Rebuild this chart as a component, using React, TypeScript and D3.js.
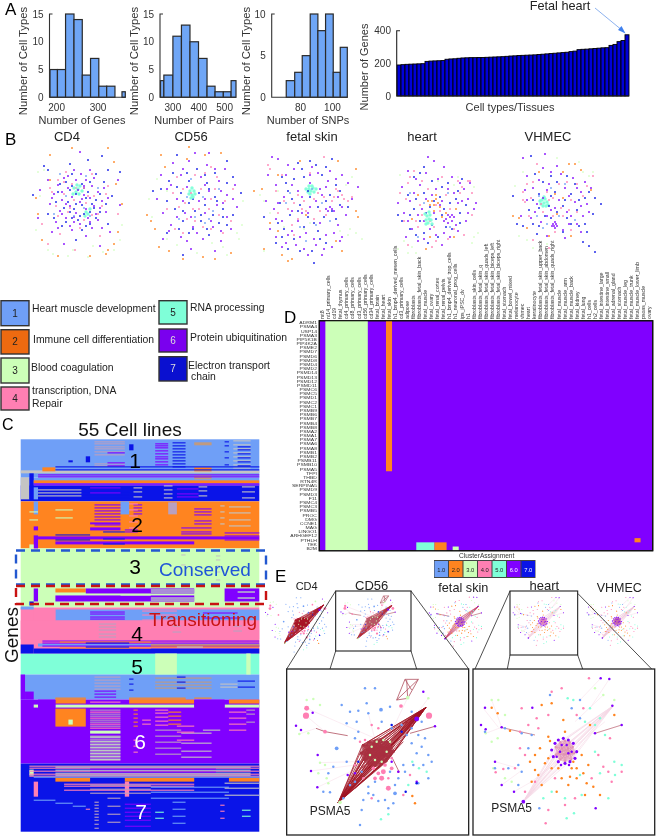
import React from "react";
import * as d3 from "d3";

type P = number[];
const palette: Record<number, string> = { 1: "#6f9ff7", 2: "#ff8420", 3: "#ccffb8", 4: "#ff7fb3", 5: "#7fffd8", 6: "#8000ff", 7: "#0a14e8", 8: "#c4c4c4", 9: "#b9a0c0", 10: "#c09a80" };

// ---------- Panel A
const genesEdges = [184, 202, 221.6, 242, 262, 282, 302, 321, 341, 358, 366];
const genesCounts = [5, 5, 15, 14, 4, 7, 2, 2, 0, 1];
const pairsEdges = [252, 265, 300, 333, 366, 399, 432, 463, 495, 525, 544];
const pairsCounts = [3, 4, 11, 13, 10, 7, 2, 1, 1, 3];
const snpEdges = [62, 71.1, 76.4, 81.1, 86.1, 90.9, 95.7, 100.5, 104.9, 109.3];
const snpCounts = [0, 2, 3, 5, 10, 8, 10, 3, 6];
const genesPerCell = [190, 192, 194, 195, 196, 197, 198, 212, 214, 215, 216, 217, 225, 227, 228, 231, 233, 234, 235, 235, 236, 236, 237, 238, 239, 240, 241, 243, 245, 246, 248, 249, 250, 251, 252, 254, 256, 258, 260, 262, 264, 266, 268, 272, 275, 284, 286, 287, 289, 291, 293, 295, 296, 310, 316, 333, 340, 375];

// ---------- Panel B clouds: offsets from each cloud's centre, by cluster
const cd4Cloud: [number, P[]][] = [
  [6, [[-4,-30],[3,-26],[-14,-22],[8,-20],[-20,-15],[14,-14],[-10,-12],[0,-10],[20,-8],[-24,-6],[6,-5],[-6,-3],[12,-2],[-16,0],[24,1],[2,2],[-28,4],[-8,6],[16,6],[8,9],[-18,11],[-2,13],[28,12],[-12,18],[10,18],[20,20],[-22,22],[2,24],[14,28],[-6,30],[-26,32],[8,36],[40,-20],[-38,-10],[42,5],[-40,18],[32,32],[-14,44],[22,46],[2,-48],[-2,-20],[12,-30],[-30,-20],[30,-2],[-4,22]]],
  [7, [[-8,-36],[10,-40],[-30,-30],[18,-26],[-12,-18],[4,-16],[26,-18],[-20,-8],[10,-8],[-2,-6],[18,0],[-10,2],[4,5],[12,12],[-4,9],[-14,8],[6,14],[22,12],[-6,18],[0,20],[30,24],[-16,26],[12,24],[-30,14],[34,-4],[-34,-34],[42,-28],[-45,-5],[24,-44],[30,-30],[4,30],[-2,40],[8,-2],[-8,-10],[14,4]]],
  [4, [[-20,-20],[-6,-16],[6,-12],[-14,-6],[16,-4],[-4,0],[8,3],[-22,6],[24,6],[-10,12],[14,15],[-28,-12],[30,-14],[2,28],[-18,34],[-36,24],[22,36],[40,14],[-3,50],[-30,44]]],
  [2, [[30,-52],[-28,-45],[36,-38],[-28,-20],[-42,-2],[38,-16],[-40,14],[-36,40],[40,32],[30,50],[-20,56],[12,56],[28,54],[36,44],[-6,-52],[44,4]]],
  [1, [[-12,-4],[6,8],[12,16],[-18,-26],[20,-12],[-4,16],[8,-24],[-24,14]]],
  [3, [[-40,-28],[-38,-4],[-30,50],[-10,56],[10,57],[25,52],[36,50],[42,40],[44,25],[-42,30],[-34,-30],[-5,50],[15,46],[-25,54]]],
  [5, [[-4,-12],[-2,-8],[0,-11],[2,-14],[-5,-6],[1,-6],[4,-9],[-1,-15],[8,12],[10,14],[12,9],[7,16]]],
  [6, [[-10,-24],[6,-14],[16,-22],[-16,-8],[4,-1],[-12,4],[22,8],[-4,17],[12,22],[-16,14],[26,-12],[-26,-2],[18,14],[-8,26],[-20,28],[24,28]]],
  [7, [[-6,-26],[-18,-16],[12,-18],[22,-6],[-6,-14],[-22,2],[6,-12],[16,8],[-8,12],[2,16],[-12,22],[18,18],[8,26],[-24,18],[28,4],[-2,4]]],
  [4, [[-12,-28],[14,-26],[-26,-8],[-8,8],[-2,-12],[20,14],[6,20],[-14,-18],[28,-6],[10,-4],[-20,16]]],
];
const cd56Cloud: [number, P[]][] = [
  [6, [[-24,-40],[-8,-42],[10,-38],[28,-34],[-36,-28],[-16,-28],[4,-26],[22,-22],[38,-18],[-30,-14],[-10,-16],[12,-12],[30,-8],[-40,-4],[-20,-4],[2,-2],[20,2],[40,4],[-34,10],[-12,10],[8,10],[30,14],[-26,22],[-4,24],[16,24],[34,26],[-16,34],[6,36],[24,38],[-34,36],[-2,-50],[12,-50],[-6,46],[18,48]]],
  [7, [[-20,-48],[0,-34],[18,-30],[-28,-22],[-8,-22],[10,-20],[30,-20],[-16,-10],[2,-10],[18,-6],[-30,-2],[-8,0],[8,2],[26,6],[-22,6],[-2,8],[16,12],[36,12],[-14,18],[4,18],[22,20],[-8,30],[12,32],[-44,-12],[44,-10],[-30,30],[30,-42],[-14,52]]],
  [4, [[-14,-14],[-6,-10],[4,-14],[14,-4],[-18,4],[-4,6],[12,6],[22,12],[28,-2],[-24,-10],[-10,16],[6,24],[-22,26],[26,30],[36,-14],[-2,-28],[14,-36]]],
  [2, [[-8,-56],[8,-48],[-36,-48],[-32,-36],[24,-50],[-46,18],[-42,26],[-38,44],[-28,48],[6,54],[18,56],[34,50],[-14,56],[-50,12],[-10,-44]]],
  [1, [[-10,-6],[12,16],[16,8],[8,20],[-2,14],[-6,-24],[22,-14],[-18,16],[6,-6]]],
  [3, [[-30,-12],[-48,-4],[-45,14],[-30,36],[-20,42],[0,50],[26,44],[40,30],[45,22],[42,36],[46,-2],[-40,-24],[15,40],[30,52]]],
  [5, [[-7,-12],[-5,-8],[-3,-12],[-5,-15],[-8,-9],[-2,-9],[-6,-5],[-4,-6]]],
  [6, [[-14,-34],[18,-34],[-26,-18],[8,-18],[24,-12],[-14,-2],[8,-4],[26,0],[-6,14],[14,18],[-20,14],[0,30],[24,28],[-28,28],[-10,38],[36,-4]]],
  [7, [[-10,-30],[8,-28],[-20,-16],[-4,-4],[12,-14],[20,-2],[-14,8],[4,12],[10,26],[-4,26],[26,14],[-24,-30],[-36,-14],[36,-26],[-18,26],[30,22]]],
  [4, [[-20,-26],[8,-30],[-12,0],[2,6],[18,-14],[-2,18],[14,26],[-30,6],[34,18],[-14,30],[20,-26]]],
];
const fetalCloud: [number, P[]][] = [
  [6, [[-40,-48],[-34,-46],[-44,-30],[-18,-36],[0,-38],[18,-34],[30,-30],[-36,-20],[-20,-20],[-2,-22],[14,-18],[36,-22],[46,-18],[-28,-8],[-10,-8],[10,-10],[26,-8],[40,-6],[-46,-4],[-38,4],[-20,6],[-2,2],[14,4],[18,2],[20,4],[16,6],[22,6],[34,10],[-30,16],[-14,16],[8,18],[26,20],[-42,24],[-24,30],[-6,28],[14,30],[30,32],[-16,40],[4,40],[20,42],[-30,42],[-4,50],[10,50],[-26,-30],[4,-4],[-12,32],[22,28],[-36,32]]],
  [7, [[-14,-42],[4,-40],[20,-46],[-30,-28],[-8,-28],[10,-30],[24,-20],[-24,-14],[-4,-14],[18,-10],[-32,-2],[-12,0],[6,2],[28,0],[-22,10],[-4,12],[12,12],[-28,24],[-8,22],[6,26],[24,14],[-36,38],[-12,46],[2,58],[-48,12],[36,2],[-20,-6],[-2,-44],[14,38]]],
  [4, [[-18,-2],[-8,-4],[2,-6],[12,-8],[-24,4],[-6,6],[8,6],[22,-8],[30,-10],[36,-4],[-30,-30],[-14,14],[2,14],[-36,-14],[-44,-40],[-42,-36],[12,-48],[32,-6],[26,-14],[-20,20]]],
  [2, [[-50,-16],[-34,-30],[-12,-44],[26,-44],[44,-36],[-6,10],[-42,18],[-34,26],[-48,44],[-30,50],[-24,56],[-20,54],[24,36],[46,12],[44,6],[-58,-14],[30,46]]],
  [1, [[-22,-12],[-12,22],[0,-16],[10,-2],[-6,36],[18,16],[-26,-2],[4,20]]],
  [3, [[-34,-14],[-52,-10],[-48,-4],[-42,8],[-28,22],[28,26],[38,24],[36,30],[44,28],[50,34],[-8,24],[-48,46],[-2,18],[34,-20],[40,-28]]],
  [5, [[-3,-16],[-1,-14],[1,-17],[-4,-13],[0,-19],[2,-13],[-6,-16],[-2,-11],[4,-16],[-3,-19]]],
  [6, [[-24,-40],[6,-32],[24,-26],[-14,-14],[16,-24],[-34,-2],[-4,8],[30,2],[-20,26],[2,34],[-36,14],[-26,38],[12,44],[-10,8],[8,-16],[28,36],[-2,-30],[-8,44]]],
  [7, [[-18,-26],[14,-38],[-26,-22],[-2,-8],[14,-4],[-14,6],[2,18],[-34,18],[-18,34],[8,34],[20,6],[-10,-36],[28,-14],[-24,44],[0,46],[-30,32]]],
  [4, [[-14,-10],[6,-12],[20,-4],[-28,-4],[-10,4],[14,10],[-2,-32],[24,-16],[-18,30],[40,-8],[-34,8]]],
];
const heartCloud: [number, P[]][] = [
  [6, [[-30,-36],[-12,-34],[6,-40],[14,-30],[-36,-20],[-18,-22],[-2,-18],[16,-14],[26,-18],[-28,-6],[-12,-8],[4,-6],[20,-4],[30,-8],[-34,6],[-20,8],[-4,6],[10,8],[12,10],[8,12],[14,14],[10,16],[16,10],[28,14],[-26,22],[-8,22],[6,26],[20,24],[-14,32],[4,38],[-32,30],[32,-24],[36,2],[38,-4],[-40,-4],[-4,-46],[-10,-50]]],
  [7, [[-24,-30],[-6,-26],[10,-24],[-30,-12],[-14,-14],[2,-10],[18,-8],[-24,2],[-8,0],[6,2],[22,6],[-18,14],[-2,12],[14,22],[-22,28],[0,30],[-36,14],[-40,8],[-14,-40],[24,-28],[-10,36]]],
  [4, [[-38,-14],[-30,-24],[-24,-36],[-16,-26],[4,-30],[20,-26],[24,-20],[30,-26],[-34,14],[-20,20],[-30,38],[-6,40],[10,32],[26,28],[-16,8],[-2,-2],[12,2],[34,-14],[32,-26],[-4,20],[34,8]]],
  [2, [[-6,-6],[-4,-2],[-2,-8],[-8,-2],[0,-4],[2,0],[-10,-6],[-4,4],[-2,-12],[4,10],[8,6],[-20,-12],[-26,12],[18,2],[-8,30],[16,30],[-12,42]]],
  [1, [[-14,-4],[10,-14],[-20,30],[12,20],[-28,-14]]],
  [3, [[-34,34],[-26,40],[-22,46],[-30,46],[0,-26],[16,-22],[20,-30],[36,-20],[36,30],[40,26],[-38,-32],[-40,42],[34,36]]],
  [5, [[-11,9],[-9,12],[-12,13],[-8,8],[-10,16],[-7,13],[-13,7],[-9,5],[-12,17],[-6,17]]],
  [6, [[-22,-28],[0,-28],[22,-24],[-24,-14],[-6,-12],[10,-18],[24,-6],[-16,2],[2,-2],[6,14],[14,8],[18,18],[-14,14],[-2,28],[-20,34],[12,30],[30,6],[-30,14]]],
  [7, [[-18,-34],[4,-20],[-22,-8],[-4,-6],[12,-4],[-28,8],[-12,6],[4,8],[-6,18],[22,16],[8,20],[-28,22],[-14,26],[20,-16],[28,-2]]],
  [4, [[-28,-30],[-10,-18],[8,-12],[-18,-2],[2,4],[-22,14],[-8,14],[16,22],[-2,34],[22,-14],[-32,-8]]],
];
const vhmecCloud: [number, P[]][] = [
  [6, [[-30,-26],[-14,-34],[0,-36],[16,-24],[28,-20],[-24,-14],[-8,-18],[8,-14],[24,-10],[-30,-2],[-14,-4],[2,-2],[18,0],[30,2],[-22,10],[-6,8],[10,10],[26,14],[-16,20],[-2,20],[-4,22],[-3,24],[-1,22],[-5,24],[-2,26],[0,24],[12,22],[24,30],[-34,-44],[-12,-48],[-36,14],[8,36],[-10,34],[34,-14]]],
  [7, [[-22,-28],[-6,-26],[10,-26],[-18,-8],[-2,-10],[14,-8],[28,-4],[-28,8],[-8,4],[6,4],[20,8],[-24,22],[-12,14],[10,16],[22,24],[-34,24],[-20,32],[30,30],[26,40],[32,44],[38,50],[-40,22],[38,-4],[44,2],[-44,-6],[-26,-46]]],
  [4, [[-34,-10],[-10,-10],[2,-18],[14,-2],[-8,-2],[4,6],[-16,2],[12,8],[-26,-4],[-4,14],[-20,-38],[20,-18],[-30,-18],[36,-26],[-24,38],[-8,46],[-32,0],[-34,-2]]],
  [2, [[-18,-30],[6,-30],[12,-38],[24,-32],[34,-12],[-38,16],[-30,26],[-8,34],[14,34],[-2,-8],[6,-4],[0,12],[-44,14],[18,-38]]],
  [1, [[-18,-6],[-6,-14],[2,14],[-10,22],[-20,14],[18,18],[-14,26],[8,-18]]],
  [3, [[-34,-30],[22,-40],[26,-30],[32,-26],[-42,-16],[-38,34],[-30,38],[-24,46],[0,-44],[-10,42],[36,-30]]],
  [5, [[-15,-2],[-13,1],[-12,-3],[-16,2],[-10,0],[-14,4],[-11,4],[-17,-1],[-13,-5],[-9,3]]],
  [6, [[-18,-22],[4,-28],[20,-14],[-10,-12],[12,-6],[24,4],[-20,2],[-2,6],[14,14],[-10,14],[20,22],[-26,16],[6,28],[32,10],[-32,-12],[-6,-30]]],
  [7, [[-14,-20],[0,-20],[18,-18],[-24,-2],[-6,-6],[8,-2],[22,-2],[-18,6],[0,10],[14,22],[-6,16],[-18,24],[28,22],[32,-10],[36,12],[6,30]]],
  [4, [[-24,-20],[10,-20],[-4,-4],[6,14],[20,10],[-14,10],[26,-6],[-28,14],[14,28],[-2,30],[30,-16]]],
];
const cloudTitles = ["CD4", "CD56", "fetal skin", "heart", "VHMEC"];
const clouds = [cd4Cloud, cd56Cloud, fetalCloud, heartCloud, vhmecCloud];

// ---------- Legend
const clusterNames = ["Heart muscle development", "Immune cell differentiation", "Blood coagulation", "transcription, DNA|Repair", "RNA processing", "Protein ubiquitination", "Electron transport|chain"];

// ---------- Panel C: blocks [row0,row1,col0,col1,cluster] and stripes [rows,col0,col1,cluster]
const heatBlocks: P[] = [
  [0,38,0,55,1],[38,46,0,55,1],[46,62,0,55,7],[62,109,0,55,2],[109,168,0,55,3],[168,214,0,55,4],[214,235,0,55,5],[235,260,0,55,1],[260,324,0,55,6],[324,392,0,55,7],
  [31,34,0,55,8],[38,60,0,2,8],[34,60,2,3,7],[48,60,3,4,1],[41,44,3,55,2],
  [5,11,25,26,7],[17,23,15,16,7],[21,23,11,12,7],[28,32,5,8,2],[3,6,40,44,10],[28,32,40,44,2],[36,40,40,44,10],
  [62,75,3,4,1],[62,75,23,25,1],[63,75,34,36,9],[88,91,16,23,6],[83,85,16,23,6],
  [87,91,3,4,6],[96,109,3,4,6],[97,100,4,55,6],[102,105,8,40,6],[105,109,2,3,3],[94,96,4,25,2],
  [149,162,3,4,6],[149,153,8,15,2],[149,154,15,40,6],[156,162,8,40,6],[149,162,47,55,6],[162,166,2,3,7],
  [170,181,8,55,1],[170,181,3,8,4],[167,170,0,3,1],[181,200,0,55,4],[205,214,0,3,7],[209,214,3,55,7],[204,207,4,55,1],
  [214,235,31,36,3],[214,235,52,53,3],
  [235,260,0,1,6],[252,260,1,3,6],[260,264,8,15,2],[260,264,25,40,2],[260,264,48,55,2],[265,268,3,4,3],[265,268,8,40,3],[265,268,47,55,3],[260,268,4,8,6],[260,268,40,47,6],
  [269,287,8,15,2],[280,285,11,12,3],[291,294,16,23,3],
  [338,342,8,16,2],[338,342,24,40,2],[338,342,48,55,2],[342,357,3,4,4],[342,357,24,25,4],[330,336,2,3,3],
];
const heatStripes: [P, number, number, number][] = [
  [[2,4,7,9,12,15,24,26],17,24,9],[[4,6,8,11,14,17,19,22,25],31,34,6],[[3,6,9,12,15,18,21,24,27],35,38,7],[[1,5,9,13,17,21,25,28],49,53,8],[[7,10,14,18,22,26],50,53,7],[[2,6,12,18,25],47,48,7],
  [[13,23,26],20,24,6],[[27,30],8,55,7],[[35,37],4,55,6],[[44,45],3,55,6],
  [[47,49,52,55,58],4,25,7],[[50,53,56],4,14,8],[[48,52,57],26,28,8],[[46,50,54,58],33,35,8],[[47,51,56],41,43,8],[[47,52,58],51,54,8],[[48,53],16,23,6],[[49,54,57],36,41,6],
  [[65,68,71,74,77,80,85],17,23,6],[[65,68,71,74],26,28,6],[[69,72,75,81,84],40,44,6],[[70,78],8,12,3],[[72,80],2,4,3],[[67,73,80,86],48,53,8],[[64,70,76,82,88],25,27,4],[[66,72,78,84],46,47,8],
  [[90,92],24,27,6],[[88,92,94],37,44,6],[[93,96,100],47,55,6],[[95,100],8,16,7],[[92,99,104],19,24,7],
  [[116,120,126,132,140,145],45,46,8],[[115,125],37,38,8],[[150,152,158,160],30,40,3],[[155],23,30,3],[[152,158],50,54,3],
  [[172,174,177,179],16,24,6],[[171,175,180],28,36,4],[[173,178],42,50,6],[[184,187,190,194,197],18,22,9],[[186,192],35,37,9],[[186,191],49,51,9],
  [[201,203,206],5,55,6],[[202,208],9,30,2],[[205,207],30,55,2],[[203,207],15,25,7],[[207],36,42,8],
  [[237,240,243,246,249],17,23,9],[[238,242,245,248],31,44,10],[[239,244,250],25,26,7],[[241,247],50,54,7],[[237,242,248],36,38,7],[[251,254,257],17,22,6],[[244,247],46,50,8],
  [[258,259],8,15,2],[[258,259],25,38,2],[[258],40,44,2],
  [[262,272,278,284,288],16,23,4],[[270,274,276,280,282,286],16,23,9],[[296,299,302,305,308,311,314,317,320],16,23,9],[[297,301,304,307,310,313,316,319],16,23,3],
  [[270,274,278,282,286],26,27,2],[[300,306,312],26,27,4],[[270,273,277,281,285],31,34,4],[[272,276,280,284],34,37,2],[[290,296,302,308,314],31,37,9],[[293,303,311,317],37,44,8],[[286,292,300],36,40,4],[[272,278,284,290],48,52,4],[[270,274,282],52,54,9],[[290],42,46,8],[[280,284],28,30,4],
  [[326,328,331,334,336],2,55,4],[[327,330,333,335],8,53,8],[[329,332],16,45,6],[[337],3,55,1],[[344,346,350],10,40,4],[[345,349,353],16,30,9],[[347,352,358],30,48,1],[[343,348,355],47,55,8],
  [[360],3,8,1],[[363],8,12,1],[[366],12,15,1],[[369],15,16,4],[[362,365,368,371,374,377,380,384,388],17,18,9],[[364,368,372,376,380,386],24,30,6],[[372,378],31,33,5],[[362,369,376,383],35,38,1],[[365,371,378],46,47,4],[[358,366,374,382],20,23,9],[[370,376],51,53,5],
];
const heatNumbers: [string, number, number, string][] = [["1",135,468,"#000"],["2",137,532,"#000"],["3",135,574,"#000"],["4",137,641,"#000"],["5",137,674,"#000"],["6",140,749,"#fff"],["7",141,819,"#fff"]];

// ---------- Panel D
const geneLabels = ["ADRM1","PSMA4","USP14","PSMA3","PIP5K1B","PIP4K2A","PSME2","PSMD7","PSMD6","PSMD8","PSMD4","PSMD2","PSMD14","PSMD13","PSMD12","PSMD11","PSMC6","PSMC5","PSMD1","PSMC2","PSMC1","PSMB9","PSMB6","PSMB7","PSMB4","PSMB8","PSMA2","PSMA1","PSMA7","PSMA6","PSMA8","PSMB1","PSMB2","PSMB11","PSMB10","PSMA5","TFPI","THBD","RTN4R","SERPINA5","PSMD9","PSMD3","F11","PSMC4","PSMC3","PSMB5","PROC","DMG","CCNE1","MAG","LINGO1","ARHGEF12","PTHLH","TEK","B2M"];
const cellLabels = ["mt8","nt14_primary_cells","cd19","fetal_thymus","cd4_primary_cells","cd8_primary_cells","cd3_primary_cells","cd56_primary_cells","cd34_primary_cells","fetal_brain","fetal_heart","fetal_skin","h1_bmp4_derived_mesen_cells","cd3_primary_cells","adipose","fibroblasts","fibroblasts_fetal_skin_back","fetal_muscle","fetal_ovary","fetal_renal_cortex","fetal_renal_pelvis","h1_bmp4_derived_trop_cells","h1_neuronal_prog_cells","ips_iPSC_dv","h1","fibroblasts_skin_cells","fibroblasts_fetal_skin_q","fibroblasts_fetal_skin_quads_left","fibroblasts_fetal_skin_biceps_left","fibroblasts_fetal_skin_biceps_right","fetal_stomach","fetal_bowel_mixed","melanocyte","vhmec","heart","keratinocyte","fibroblasts_fetal_skin_upper_back","fibroblasts_fetal_skin_abdomen","fibroblasts_fetal_skin_quads_right","fetal_muscle","fetal_muscle_arm","fetal_muscle_back","fetal_kidney","fetal_lung","h1_cells","h2_cells","fetal_intestine_large","fetal_intestine_small","fetal_adrenal_gland","fetal_stomach","fetal_muscle_leg","fetal_muscle_trunk","fetal_muscle_lower_limb","psoas_muscle","ovary","pancreas"].slice(0, 55);
const dBlocks: P[] = [[0,55,1,8,3],[0,36,11,12,2],[53,55,16,19,5],[53,55,19,21,2],[54,55,22,23,3],[52,53,52,53,2]];
const legendSteps = [1, 2, 3, 4, 5, 6, 7];

// ---------- Panel E: networks
const netLeftBlue: P[] = [[200,420],[225,440],[250,437],[270,370],[300,370],[318,434,3],[280,445],[320,470],[350,490],[380,480],[410,440],[430,510],[450,520],[395,510],[440,545],[425,565],[460,570],[445,600],[415,600],[390,620],[370,640],[385,600],[360,685,3],[330,705],[310,708],[295,690],[280,685],[260,735],[255,780],[340,730],[355,715],[185,550,3],[240,520],[250,500],[175,605],[215,590],[160,625],[145,680],[165,682],[280,665],[300,650],[430,655],[460,640],[345,620],[360,660],[215,475],[245,470],[275,415],[345,425],[440,470],[410,490],[470,590],[410,535],[240,650],[260,620],[225,660],[205,700],[265,705]];
const netLeftPink: P[] = [[95,430,4],[93,452,5],[150,500,3],[462,452,5],[378,423,3],[340,670,4],[320,640,4],[330,600,3],[350,610,3],[295,610,3],[270,525],[255,530],[290,480],[310,490],[240,600],[265,640],[300,640,3],[340,640],[370,620],[350,580],[405,630],[290,700],[385,690],[325,620,4],[310,625,3]];
const netLeftGreen: P[] = [[95,405],[115,402],[135,420],[73,507],[100,505],[398,398,3],[460,400],[195,712,3],[130,625],[160,655],[150,600],[135,593],[155,640],[305,530,2],[325,525,2],[290,545,2],[335,560,2],[285,570,2],[320,590,2],[300,585,2],[345,530,2]];
const netLeftPurple: P[] = [[113,443],[63,482],[78,495],[445,380],[480,484],[128,570],[108,618],[127,667],[218,630],[240,625],[425,462,4],[425,650],[370,620],[350,590]];
const netLeftOther: [number, P][] = [[5,[412,590]],[5,[432,610]],[5,[340,748]],[5,[318,763]],[5,[400,660]],[5,[455,620]],[2,[412,693]],[2,[420,715]],[7,[380,500]],[7,[350,480]],[7,[425,655]],[7,[250,590]],[7,[392,680]]];
const netLeftCore: P[] = [[262,540],[280,530],[300,525],[320,520],[340,530],[350,545],[358,560],[345,575],[335,590],[320,600],[300,605],[280,600],[265,585],[255,565],[275,555],[295,550],[315,545],[335,550],[290,575],[310,575],[325,570],[305,535],[270,570],[345,558]];
const netLeftHubs: P[] = [[190,712],[452,428]];
const netLeftBundle: P[] = [[225,660,340,520],[240,650,370,520],[250,640,385,505],[265,620,400,490],[280,610,410,480],[300,590,420,465],[230,640,300,530],[215,680,290,590],[240,670,330,590],[260,650,350,570],[290,625,370,545],[310,610,385,530],[190,712,452,428],[190,712,400,470],[190,712,380,510],[190,712,360,540],[230,650,452,428],[260,610,452,428],[280,590,452,428]];
const netLeftRed: P[] = [[123,490,150,500],[150,500,218,512],[405,505,480,484],[365,405,390,343],[390,343,430,343],[430,343,398,400],[365,405,430,343],[390,343,410,375],[365,405,398,400],[395,345,398,400],[350,575,372,620]];
const netLeftPale: P[] = [[95,430,300,520],[93,452,150,500],[73,507,123,490],[135,593,240,590],[108,618,240,600],[127,667,225,620],[398,398,340,520],[460,400,400,480],[280,445,300,525]];

const netRightPurple: P[] = [[630,428],[977,340],[1003,342],[1012,422],[618,480],[632,493],[680,487],[660,590],[680,660],[717,680],[745,710,3],[1040,480],[772,428],[960,505],[962,730],[840,535,2.5],[850,525,2.5],[865,520,2.5],[880,525,2.5],[895,535,2.5],[905,560,2.5],[900,580,2.5],[885,590,2.5],[870,595,2.5],[850,590,2.5],[835,575,2.5],[830,555,2.5],[855,560],[880,565],[860,540],[890,560],[875,540],[845,575],[858,600],[882,600]];
const netRightOrange: P[] = [[650,428],[668,445],[705,497],[865,465],[800,420],[830,415],[870,500],[820,515],[795,550],[780,570],[765,590],[820,580],[830,610],[790,630],[770,650],[890,610],[920,570],[940,600],[905,640],[880,660],[845,680],[860,640],[800,660],[955,665],[930,690],[1018,450],[975,690],[895,590],[945,480],[825,528],[850,610],[905,610],[925,625],[810,595],[885,635],[780,615],[935,655]];
const netRightPink: P[] = [[735,550],[750,570],[720,610],[685,612],[662,622],[830,380],[860,370],[820,450],[785,460],[790,490],[760,480],[740,430],[735,500],[905,450],[925,430],[1005,520],[970,570],[1000,620],[950,640],[1010,650],[900,700],[820,735],[812,775],[870,720],[780,650],[750,680],[942,340],[840,640],[985,605],[1040,620]];
const netRightCyan: P[] = [[878,400],[895,405],[975,460],[960,480],[930,470],[990,510],[915,630],[975,625],[1040,600],[1020,630],[1018,590],[830,680],[805,700],[870,700],[897,745],[875,760],[1000,700],[920,690],[945,430],[960,560]];
const netRightBlue: P[] = [[630,500],[825,390],[890,430],[690,490],[740,505],[770,510],[760,550],[660,610],[730,600],[740,620],[793,730],[730,660],[915,405],[915,460],[700,610]];
const netRightGreen: P[] = [[650,405],[670,405],[632,505],[650,530],[668,520],[690,450],[1018,405],[710,650],[690,640],[655,610],[985,390],[960,370]];
const netRightCore: P[] = [[840,545],[855,530],[870,525],[885,530],[895,545],[900,565],[890,585],[870,590],[855,585],[840,570],[860,550],[880,550],[870,570],[850,565],[885,568]];
const netRightHubs: P[] = [[745,710],[1015,422]];
const netRightPale: P[] = [[677,487,780,510],[960,505,1040,480],[670,487,625,430],[660,590,730,610],[680,660,735,620],[717,680,770,650],[977,340,915,405],[1003,342,945,430],[985,390,900,470],[650,405,680,487],[632,505,680,487],[745,710,830,570],[770,650,990,470],[790,640,1000,440],[760,690,960,470]];
const titlesE: [string, number, number, number][] = [["CD4",95,62,11],["CD56",290,62,13],["fetal skin",565,68,12.7],["heart",808,62,13],["VHMEC",1033,70,12.5]];
const zx = (X: number) => 275 + X / 3;
const zy = (Y: number) => 565 + Y / 3;

function Hist({ edges, counts, xDomain, xRange, x0, ticks, yMax, yTicks, xLabel, xLabelX, yLabelX }: any) {
  const x = d3.scaleLinear().domain(xDomain).range(xRange);
  const y = d3.scaleLinear().domain([0, yMax]).range([97.3, 14]);
  return (
    <g>
      {counts.map((c: number, i: number) => (
        <rect key={i} x={x(edges[i])} y={y(c)} width={x(edges[i + 1]) - x(edges[i])} height={97.3 - y(c)} fill="#6fa6f6" stroke="#2a2a2a" strokeWidth={1.2} />
      ))}
      <path d={`M${x0 + 3},14 H${x0} V97.3 H${xRange[1]}`} fill="none" stroke="#333" strokeWidth={1.1} />
      {yTicks.map((t: number) => (
        <text key={t} x={x0 - 6} y={y(t) + 3.5} textAnchor="end" fontSize={10} fill="#333">{t}</text>
      ))}
      {ticks.map((t: number) => (
        <text key={t} x={x(t)} y={111} textAnchor="middle" fontSize={10} fill="#333">{t}</text>
      ))}
      <text x={xLabelX} y={124} textAnchor="middle" fontSize={11} fill="#333">{xLabel}</text>
      <text transform={`translate(${yLabelX},61) rotate(-90)`} textAnchor="middle" fontSize={11.3} fill="#333">Number of Cell Types</text>
    </g>
  );
}

function Net({ rect, xDom, yDom, pts, core, hubs, edge, edgeW, coreBlob, pale, red, bundle, scale }: any) {
  const x = d3.scaleLinear().domain(xDom).range([zx(rect[0]), zx(rect[2])]);
  const y = d3.scaleLinear().domain(yDom).range([zy(rect[1]), zy(rect[3])]);
  const seg = (s: P, k: number, col: string, w: number, o = 1) => (
    <line key={k} x1={x(s[0])} y1={y(s[1])} x2={x(s[2])} y2={y(s[3])} stroke={col} strokeWidth={w} strokeOpacity={o} />
  );
  return (
    <g>
      {(pale || []).map((s: P, i: number) => seg(s, i, "#f6dbe6", 0.5))}
      {hubs.map((h: P, j: number) => core.map((c: P, i: number) => seg([h[0], h[1], c[0], c[1]], j * 100 + i, edge, edgeW, 0.95)))}
      {(bundle || []).map((s: P, i: number) => seg(s, 1000 + i, edge, edgeW, 0.95))}
      {core.map((a: P, i: number) => core.slice(i + 1).map((b: P, j: number) => seg([a[0], a[1], b[0], b[1]], 2000 + i * 100 + j, coreBlob, edgeW, 0.7)))}
      {(red || []).map((s: P, i: number) => seg(s, 5000 + i, "#b05060", Math.max(0.6, edgeW)))}
      {pts.map(([k, list]: [number, P[]], i: number) => list.map((p: P, j: number) => (
        <circle key={`${i}-${j}`} cx={x(p[0])} cy={y(p[1])} r={(p[2] || 2) * scale} fill={palette[k]} />
      )))}
    </g>
  );
}

const leftPts = [[4, netLeftPink], [1, netLeftBlue], [3, netLeftGreen], [6, netLeftPurple], ...netLeftOther.map(([k, p]) => [k, [p]])];
const rightPts = [[3, netRightGreen], [1, netRightBlue], [5, netRightCyan], [4, netRightPink], [2, netRightOrange], [6, netRightPurple]];
const leftDom = [[35, 581], [312, 810]];
const rightDom = [[594, 1139], [312, 810]];

export default function App() {
  const barX = d3.scaleBand<number>().domain(d3.range(genesPerCell.length)).range([397, 629]).padding(0);
  const barY = d3.scaleLinear().domain([0, 400]).range([96, 30.7]);
  const hx = d3.scaleLinear().domain([0, 55]).range([20.7, 259.3]);
  const hy = d3.scaleLinear().domain([0, 392]).range([439.3, 831.7]);
  const dx = d3.scaleLinear().domain([0, 55]).range([319.3, 652.7]);
  const dy = d3.scaleLinear().domain([0, 55]).range([320.7, 550.7]);
  const cloudCenters = [[78, 200], [197, 203], [312, 205], [438, 207], [557, 202]];
  const cloudScale = d3.scaleLinear().domain([-70, 70]).range([-70, 70]);
  const titleX = [67, 191, 312, 422, 548];
  const legX = [1, 159];
  const legRows = [[300.7, 325.7], [329.7, 354], [358, 383], [387, 410], [300.7, 324], [329, 352], [356.7, 381]];
  const legCol = ["#6f9ff7", "#ee6a10", "#ccffb8", "#ff7fb3", "#7fffd8", "#7a00ee", "#0a10d0"];
  const legTextX = [32, 33, 31, 32, 190, 190, 188];
  const legTextY = [311.5, 343, 371, 394, 311, 341, 369];
  const legendX = d3.scaleBand<number>().domain(legendSteps).range([434.5, 535]).paddingInner(0.07);
  return (
    <svg width={656} height={840} viewBox="0 0 656 840" style={{ position: "absolute", left: 0, top: 0, fontFamily: "'Liberation Sans', Arial, sans-serif" }}>
      <rect width={656} height={840} fill="#fff" />
      <g style={{ filter: "blur(0.3px)" }}>
        <text x={5} y={15} fontSize={17}>A</text>
        <Hist edges={genesEdges} counts={genesCounts} xDomain={[184, 366]} xRange={[50, 125.3]} x0={49.5} ticks={[200, 300]} yMax={15} yTicks={[0, 5, 10, 15]} xLabel="Number of Genes" xLabelX={82} yLabelX={27} />
        <Hist edges={pairsEdges} counts={pairsCounts} xDomain={[252, 544]} xRange={[160.5, 236]} x0={160} ticks={[300, 400, 500]} yMax={15} yTicks={[0, 5, 10, 15]} xLabel="Number of Pairs" xLabelX={194} yLabelX={138} />
        <Hist edges={snpEdges} counts={snpCounts} xDomain={[62, 109.3]} xRange={[271.7, 347.3]} x0={271.7} ticks={[80, 100]} yMax={10} yTicks={[0, 5, 10]} xLabel="Number of SNPs" xLabelX={308} yLabelX={250} />

        {genesPerCell.map((v, i) => (
          <rect key={i} x={barX(i)} y={barY(v)} width={barX.bandwidth()} height={96 - barY(v)} fill="#0000d8" stroke="#000" strokeWidth={0.9} />
        ))}
        <path d="M400,30.7 H396.7 V96 H629" fill="none" stroke="#222" strokeWidth={1.1} />
        {[0, 200, 400].map((t) => <text key={t} x={391} y={barY(t) + 3.5} textAnchor="end" fontSize={10} fill="#333">{t}</text>)}
        <text transform="translate(368,67) rotate(-90)" textAnchor="middle" fontSize={11} fill="#333">Number of Genes</text>
        <text x={510} y={111} textAnchor="middle" fontSize={11} fill="#333">Cell types/Tissues</text>
        <text x={560} y={10} textAnchor="middle" fontSize={12.7} fill="#222">Fetal heart</text>
        <line x1={595} y1={8} x2={623} y2={31} stroke="#5b90e6" strokeWidth={0.7} />
        <path d="M625.5,33.5 L618,30 L621.5,26 Z" fill="#3f80ee" />

        <text x={5} y={145} fontSize={17}>B</text>
        {cloudTitles.map((t, i) => <text key={t} x={titleX[i]} y={141} textAnchor="middle" fontSize={13} fill="#222">{t}</text>)}
        {clouds.map((cl, i) => (
          <g key={i}>
            {[...cl].reverse().map(([k, list], li) => list.map((p, j) => (
              <circle key={`${li}-${j}`} cx={cloudCenters[i][0] + cloudScale(p[0])} cy={cloudCenters[i][1] + cloudScale(p[1])} r={k === 5 ? 1.7 : 0.95} fill={palette[k]} fillOpacity={k === 3 ? 0.75 : 0.95} />
            )))}
          </g>
        ))}

        {clusterNames.map((n, i) => {
          const bx = legX[i < 4 ? 0 : 1];
          const lines = n.split("|");
          return (
            <g key={n}>
              <rect x={bx} y={legRows[i][0]} width={28} height={legRows[i][1] - legRows[i][0]} fill={legCol[i]} stroke="#333" strokeWidth={1.4} />
              <text x={bx + 14} y={(legRows[i][0] + legRows[i][1]) / 2 + 3.5} textAnchor="middle" fontSize={10} fill={i >= 5 ? "#ddd" : "#222"}>{i + 1}</text>
              {lines.map((l, j) => <text key={l} x={legTextX[i] + (j && i === 6 ? 3 : 0)} y={legTextY[i] + j * (i === 6 ? 11 : 13)} fontSize={10.4} fill="#222">{l}</text>)}
            </g>
          );
        })}

        <text x={2} y={430} fontSize={16}>C</text>
        <text x={130} y={436} textAnchor="middle" fontSize={19} fill="#111">55 Cell lines</text>
        {heatBlocks.map((b, i) => (
          <rect key={i} x={hx(b[2])} y={hy(b[0])} width={hx(b[3]) - hx(b[2])} height={hy(b[1]) - hy(b[0])} fill={palette[b[4]]} />
        ))}
        {heatStripes.map(([rows, c0, c1, k], i) => rows.map((r) => (
          <rect key={`${i}-${r}`} x={hx(c0)} y={hy(r)} width={hx(c1) - hx(c0)} height={hy(r + 1.1) - hy(r)} fill={palette[k]} />
        )))}
        {heatNumbers.map(([t, x, y, c]) => <text key={t} x={x} y={y} textAnchor="middle" fontSize={21} fill={c}>{t}</text>)}
        <text x={205} y={576} textAnchor="middle" fontSize={19} fill="#1f55d8">Conserved</text>
        <text x={203} y={626} textAnchor="middle" fontSize={19} fill="#c81414">Transitioning</text>
        <rect x={16} y={550.5} width={250} height={34} fill="none" stroke="#2358d0" strokeWidth={2.4} strokeDasharray="9 6" />
        <rect x={16} y={586} width={250} height={18} fill="none" stroke="#c81212" strokeWidth={2.4} strokeDasharray="9 6" />
        <text transform="translate(18,635) rotate(-90)" textAnchor="middle" fontSize={19} fill="#111">Genes</text>

        <text x={284} y={323} fontSize={17}>D</text>
        <rect x={319.3} y={320.7} width={333.4} height={230} fill={palette[6]} stroke="#111" strokeWidth={1.2} />
        {dBlocks.map((b, i) => <rect key={i} x={dx(b[2])} y={dy(b[0])} width={dx(b[3]) - dx(b[2])} height={dy(b[1]) - dy(b[0])} fill={palette[b[4]]} />)}
        <rect x={319.3} y={320.7} width={333.4} height={230} fill="none" stroke="#111" strokeWidth={1.2} />
        {geneLabels.map((g, i) => <text key={g} transform={`translate(317,${dy(i + 0.5) + 1.4}) scale(1.3,1)`} textAnchor="end" fontSize={3.9} fill="#333">{g}</text>)}
        {cellLabels.map((c, i) => <text key={i} transform={`translate(${dx(i + 0.5) + 1.8},319) rotate(-90)`} fontSize={5.2} fill="#333">{c}</text>)}
        <text x={486.7} y={558} textAnchor="middle" fontSize={6.6} fill="#333">ClusterAssignment</text>
        <rect x={434} y={560} width={101.5} height={18} fill="#444" />
        {legendSteps.map((s) => (
          <g key={s}>
            <rect x={legendX(s)} y={561} width={legendX.bandwidth()} height={16} fill={palette[s]} />
            <text x={legendX(s)! + legendX.bandwidth() / 2} y={571.5} textAnchor="middle" fontSize={5.8} fill={s >= 6 ? "#fff" : "#222"}>{s}.0</text>
          </g>
        ))}

        <text x={275} y={582} fontSize={17}>E</text>
        {titlesE.map(([t, X, Y, fs]) => <text key={t} x={zx(X)} y={zy(Y) + 4} textAnchor="middle" fontSize={fs} fill="#222">{t}</text>)}

        <Net rect={[-41, 75, 203, 273]} xDom={leftDom[0]} yDom={leftDom[1]} pts={leftPts} core={netLeftCore} hubs={netLeftHubs} edge="#a81828" edgeW={0.5} coreBlob="#a81828" bundle={netLeftBundle} scale={0.28} />
        <Net rect={[187, 82, 400, 254]} xDom={leftDom[0]} yDom={leftDom[1]} pts={leftPts} core={netLeftCore} hubs={netLeftHubs} edge="#b02838" edgeW={0.35} coreBlob="#b85868" pale={netLeftPale} red={netLeftRed} bundle={netLeftBundle} scale={0.28} />
        <Net rect={[454, 87, 656, 255]} xDom={rightDom[0]} yDom={rightDom[1]} pts={rightPts} core={netRightCore} hubs={netRightHubs} edge="#c84870" edgeW={0.35} coreBlob="#c070a8" red={netRightPale.slice(0, 2)} scale={0.28} />
        <Net rect={[706, 88, 901, 252]} xDom={rightDom[0]} yDom={rightDom[1]} pts={rightPts} core={netRightCore} hubs={netRightHubs} edge="#f3d3e2" edgeW={0.35} coreBlob="#d880b8" pale={netRightPale} scale={0.26} />
        <Net rect={[928, 88, 1123, 252]} xDom={rightDom[0]} yDom={rightDom[1]} pts={rightPts} core={netRightCore} hubs={netRightHubs} edge="#edc4d8" edgeW={0.35} coreBlob="#c060a8" pale={netRightPale} scale={0.26} />

        <Net rect={[35, 312, 581, 810]} xDom={leftDom[0]} yDom={leftDom[1]} pts={leftPts} core={netLeftCore} hubs={netLeftHubs} edge="#a01422" edgeW={0.8} coreBlob="#a83040" pale={netLeftPale} red={netLeftRed} bundle={netLeftBundle} scale={0.62} />
        <Net rect={[594, 312, 1139, 810]} xDom={rightDom[0]} yDom={rightDom[1]} pts={rightPts} core={netRightCore} hubs={netRightHubs} edge="#f4d6e4" edgeW={0.6} coreBlob="#e090b0" pale={netRightPale} red={netRightPale.slice(0, 2)} scale={0.62} />

        <text x={330} y={815} textAnchor="middle" fontSize={12} fill="#222">PSMA5</text>
        <text x={511.7} y={812} textAnchor="middle" fontSize={12} fill="#222">PSMA5</text>

        <g fill="none" stroke="#222">
          <rect x={zx(182)} y={zy(78)} width={226 / 3} height={180 / 3} strokeWidth={1.1} />
          <rect x={zx(705)} y={zy(78)} width={203 / 3} height={192 / 3} strokeWidth={1.1} />
          <rect x={zx(35)} y={zy(312)} width={182} height={166} strokeWidth={1.3} />
          <rect x={zx(594)} y={zy(312)} width={181.7} height={166} strokeWidth={1.3} />
          {[[182, 78, 35, 312], [408, 78, 581, 312], [182, 258, 165, 312], [408, 258, 425, 312], [705, 78, 600, 312], [908, 85, 1130, 312], [705, 270, 697, 312], [908, 270, 923, 312]].map((l, i) => (
            <line key={i} x1={zx(l[0])} y1={zy(l[1])} x2={zx(l[2])} y2={zy(l[3])} strokeWidth={0.8} />
          ))}
        </g>
      </g>
    </svg>
  );
}
